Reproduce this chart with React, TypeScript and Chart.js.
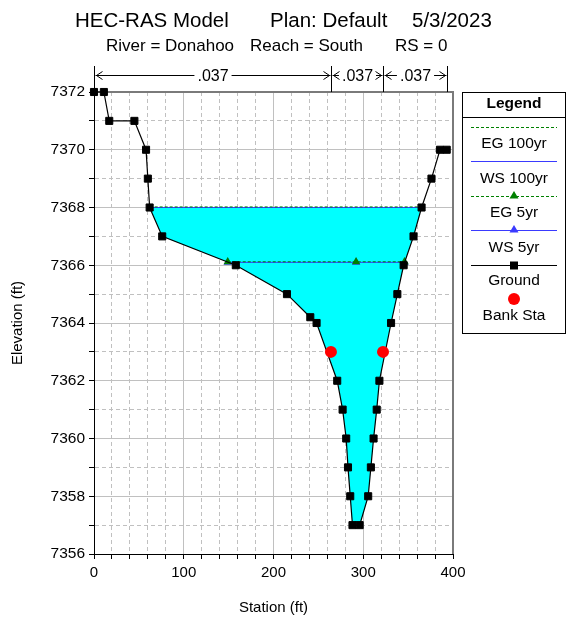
import React, { useEffect, useRef } from 'react';
import { Chart, registerables } from 'chart.js';

Chart.register(...registerables);

// ---------- data ----------
const groundStation = [0, 11, 17, 45, 58, 60, 62, 76, 158, 215, 241, 248, 271, 277, 281, 283, 285.5, 288, 296, 305.5, 308.5, 311.5, 315, 318, 331, 338, 345, 356, 365, 376, 385.5, 393];
const groundElevation = [7372, 7372, 7371, 7371, 7370, 7369, 7368, 7367, 7366, 7365, 7364.2, 7364, 7362, 7361, 7360, 7359, 7358, 7357, 7357, 7358, 7359, 7360, 7361, 7362, 7364, 7365, 7366, 7367, 7368, 7369, 7370, 7370];
const bankStation = [264, 322];
const bankElevation = [7363, 7363];
const ws100Station = [62, 365];
const ws100Elevation = 7368;
const eg100Elevation = 7368.02;
const ws5Station = [149, 292, 346];
const ws5Elevation = 7366.1;
const eg5Elevation = 7366.12;
const nValueStation = [0, 264, 322, 393];
const nValueLabel = ['.037', '.037', '.037'];
const xMajorTicks = [0, 100, 200, 300, 400];
const yMajorTicks = [7356, 7358, 7360, 7362, 7364, 7366, 7368, 7370, 7372];
const legendItems = ['EG 100yr', 'WS 100yr', 'EG 5yr', 'WS 5yr', 'Ground', 'Bank Sta'];

const FONT = '"Liberation Sans", Arial, sans-serif';
const GREEN = '#008000';
const BLUE = '#3a3aff';
const GRID = '#c0c0c0';

function waterPolygon() {
  const [s0, s1] = ws100Station;
  const pts = [{ x: s0, y: ws100Elevation }, { x: s1, y: ws100Elevation }];
  const inner = [];
  for (let i = 0; i < groundStation.length; i++) {
    if (groundStation[i] >= s0 && groundStation[i] <= s1) inner.push({ x: groundStation[i], y: groundElevation[i] });
  }
  inner.reverse();
  return pts.concat(inner);
}

const decorPlugin = {
  id: 'decor',
  beforeDatasetsDraw(chart: any) {
    const ctx = chart.ctx;
    const a = chart.chartArea;
    ctx.save();
    ctx.strokeStyle = '#7a7a7a';
    ctx.lineWidth = 2;
    ctx.beginPath();
    ctx.moveTo(a.left, a.top);
    ctx.lineTo(a.right, a.top);
    ctx.lineTo(a.right, a.bottom);
    ctx.stroke();
    ctx.restore();
  },
  afterDraw(chart: any) {
    const ctx = chart.ctx;
    const xs = chart.scales.x;
    const a = chart.chartArea;
    ctx.save();
    ctx.fillStyle = '#000';
    ctx.textBaseline = 'alphabetic';
    // titles
    ctx.font = `20.5px ${FONT}`;
    ctx.textAlign = 'left';
    ctx.fillText('HEC-RAS Model', 75, 27);
    ctx.fillText('Plan: Default', 270, 27);
    ctx.fillText('5/3/2023', 412, 27);
    ctx.font = `17px ${FONT}`;
    ctx.fillText('River = Donahoo', 106, 51);
    ctx.fillText('Reach = South', 250, 51);
    ctx.fillText('RS = 0', 395, 51);

    // axis titles
    ctx.font = `15px ${FONT}`;
    ctx.textAlign = 'center';
    ctx.textBaseline = 'middle';
    ctx.fillText('Station (ft)', (a.left + a.right) / 2, 608);
    ctx.save();
    ctx.translate(18, (a.top + a.bottom) / 2);
    ctx.rotate(-Math.PI / 2);
    ctx.fillText('Elevation (ft)', 0, 0);
    ctx.restore();

    // n-value annotation
    ctx.strokeStyle = '#000';
    ctx.lineWidth = 1;
    const ay = 75.5;
    const px = nValueStation.map((s) => Math.round(xs.getPixelForValue(s)) + 0.5);
    px.forEach((p) => {
      ctx.beginPath();
      ctx.moveTo(p, 66);
      ctx.lineTo(p, a.top);
      ctx.stroke();
    });
    ctx.font = `16px ${FONT}`;
    for (let i = 0; i < nValueLabel.length; i++) {
      const l = px[i] + 1;
      const r = px[i + 1] - 1;
      const c = (l + r) / 2;
      const w = ctx.measureText(nValueLabel[i]).width;
      ctx.fillText(nValueLabel[i], c, ay + 1);
      ctx.beginPath();
      ctx.moveTo(l, ay);
      ctx.lineTo(c - w / 2 - 3, ay);
      ctx.moveTo(c + w / 2 + 3, ay);
      ctx.lineTo(r, ay);
      ctx.moveTo(l + 7, ay - 4);
      ctx.lineTo(l + 1, ay);
      ctx.lineTo(l + 7, ay + 4);
      ctx.moveTo(r - 7, ay - 4);
      ctx.lineTo(r - 1, ay);
      ctx.lineTo(r - 7, ay + 4);
      ctx.stroke();
    }

    // legend
    const L = 462.5, R = 565.5, T = 92.5, B = 333.5;
    ctx.lineWidth = 1;
    ctx.strokeStyle = '#000';
    ctx.strokeRect(L, T, R - L, B - T);
    ctx.beginPath();
    ctx.moveTo(L, 117.5);
    ctx.lineTo(R, 117.5);
    ctx.stroke();
    ctx.font = `bold 15.5px ${FONT}`;
    ctx.fillText('Legend', (L + R) / 2, 104);
    const cx = (L + R) / 2;
    const x0 = 471, x1 = 557;
    const lineYs = [127.5, 161.5, 196.5, 230.5, 265.5, 299];
    const textYs = [144, 178.5, 213, 247.5, 281, 316];
    ctx.font = `15.5px ${FONT}`;
    legendItems.forEach((t, i) => {
      ctx.fillStyle = '#000';
      ctx.fillText(t, cx, textYs[i]);
    });
    const hline = (y: number, color: string, dash: number[]) => {
      ctx.strokeStyle = color;
      ctx.setLineDash(dash);
      ctx.lineWidth = 1;
      ctx.beginPath();
      ctx.moveTo(x0, y);
      ctx.lineTo(x1, y);
      ctx.stroke();
      ctx.setLineDash([]);
    };
    const tri = (y: number, color: string) => {
      ctx.fillStyle = color;
      ctx.beginPath();
      ctx.moveTo(cx, y - 4.5);
      ctx.lineTo(cx + 4.5, y + 3);
      ctx.lineTo(cx - 4.5, y + 3);
      ctx.closePath();
      ctx.fill();
    };
    hline(lineYs[0], GREEN, [3, 2]);
    hline(lineYs[1], BLUE, []);
    hline(lineYs[2], GREEN, [3, 2]);
    tri(lineYs[2] - 1, GREEN);
    hline(lineYs[3], BLUE, []);
    tri(lineYs[3] - 1, BLUE);
    hline(lineYs[4], '#000', []);
    ctx.fillStyle = '#000';
    ctx.fillRect(cx - 4, lineYs[4] - 4, 8, 8);
    ctx.fillStyle = '#ff0000';
    ctx.beginPath();
    ctx.arc(cx, lineYs[5], 6, 0, Math.PI * 2);
    ctx.fill();
    ctx.restore();
  },
};

const isMajor = (list: number[]) => (c: any) => (c.tick && list.includes(Number(c.tick.value)));

export default function App() {
  const ref = useRef<HTMLCanvasElement>(null);
  useEffect(() => {
    document.body.style.margin = '0';
    const ground = groundStation.map((x, i) => ({ x, y: groundElevation[i] }));
    const xMaj = isMajor(xMajorTicks);
    const yMaj = isMajor(yMajorTicks);
    const chart = new Chart(ref.current as HTMLCanvasElement, {
      type: 'scatter',
      data: {
        datasets: [
          {
            label: 'Bank Sta',
            data: bankStation.map((x, i) => ({ x, y: bankElevation[i] })),
            showLine: false,
            pointStyle: 'circle',
            pointRadius: 6,
            pointBackgroundColor: '#ff0000',
            pointBorderWidth: 0,
            order: 0,
            clip: false,
          },
          {
            label: 'Ground',
            data: ground,
            showLine: true,
            borderColor: '#000',
            borderWidth: 1.2,
            pointStyle: 'rect',
            pointRadius: 5,
            pointBackgroundColor: '#000',
            pointBorderColor: '#000',
            pointBorderWidth: 1,
            order: 1,
            clip: false,
          },
          {
            label: 'EG 5yr',
            data: ws5Station.map((x) => ({ x, y: eg5Elevation })),
            showLine: true,
            borderColor: GREEN,
            borderWidth: 1,
            borderDash: [3, 2],
            pointStyle: 'triangle',
            pointRadius: 4.8,
            pointBackgroundColor: GREEN,
            pointBorderColor: GREEN,
            pointBorderWidth: 0,
            order: 2,
          },
          {
            label: 'WS 5yr',
            data: ws5Station.map((x) => ({ x, y: ws5Elevation })),
            showLine: true,
            borderColor: BLUE,
            borderWidth: 1,
            pointStyle: 'triangle',
            pointRadius: 4.8,
            pointBackgroundColor: BLUE,
            pointBorderWidth: 0,
            order: 3,
          },
          {
            label: 'EG 100yr',
            data: ws100Station.map((x) => ({ x, y: eg100Elevation })),
            showLine: true,
            borderColor: GREEN,
            borderWidth: 1,
            borderDash: [3, 2],
            pointRadius: 0,
            order: 4,
          },
          {
            label: 'WS 100yr',
            data: ws100Station.map((x) => ({ x, y: ws100Elevation })),
            showLine: true,
            borderColor: BLUE,
            borderWidth: 1,
            pointRadius: 0,
            order: 5,
          },
          {
            label: 'water',
            data: waterPolygon(),
            showLine: true,
            borderWidth: 0,
            borderColor: 'rgba(0,0,0,0)',
            backgroundColor: '#00ffff',
            fill: 'shape',
            pointRadius: 0,
            order: 6,
          } as any,
        ],
      },
      options: {
        animation: false,
        responsive: false,
        maintainAspectRatio: false,
        layout: { padding: { left: 0, top: 92, right: 118, bottom: 0 } },
        plugins: { legend: { display: false }, tooltip: { enabled: false }, title: { display: false } },
        scales: {
          x: {
            type: 'linear',
            min: 0,
            max: 400,
            afterFit: (s: any) => { s.height = 67; },
            ticks: {
              stepSize: 20,
              autoSkip: false,
              maxRotation: 0,
              padding: 5,
              color: '#000',
              font: { family: FONT, size: 15 },
              callback: (v: any) => (xMajorTicks.includes(Number(v)) ? String(v) : ''),
            },
            grid: {
              drawOnChartArea: true,
              drawTicks: true,
              tickLength: 5,
              tickColor: '#000',
              color: GRID,
              lineWidth: 1,
            },
            border: {
              display: true,
              color: '#000',
              width: 1,
              dash: (c: any) => (c.tick && !xMaj(c) ? [4, 3] : []),
            } as any,
          },
          y: {
            type: 'linear',
            min: 7356,
            max: 7372,
            afterFit: (s: any) => { s.width = 94; },
            ticks: {
              stepSize: 1,
              autoSkip: false,
              padding: 4,
              color: '#000',
              font: { family: FONT, size: 15.5 },
              callback: (v: any) => (yMajorTicks.includes(Number(v)) ? String(v) : ''),
            },
            grid: {
              drawOnChartArea: true,
              drawTicks: true,
              tickLength: 5,
              tickColor: '#000',
              color: GRID,
              lineWidth: 1,
            },
            border: {
              display: true,
              color: '#000',
              width: 1,
              dash: (c: any) => (c.tick && !yMaj(c) ? [4, 3] : []),
            } as any,
          },
        },
      },
      plugins: [decorPlugin],
    });
    return () => chart.destroy();
  }, []);
  return (
    <div style={{ width: 571, height: 621 }}>
      <canvas ref={ref} width={571} height={621} style={{ display: 'block' }} />
    </div>
  );
}
